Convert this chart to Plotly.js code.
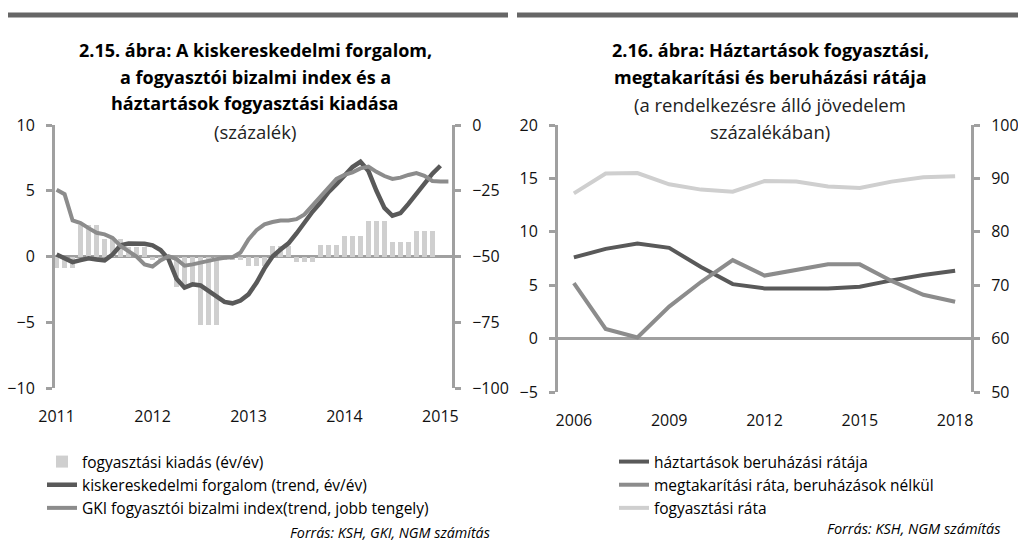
<!DOCTYPE html>
<html>
<head>
<meta charset="utf-8">
<script src="https://cdn.plot.ly/plotly-3.0.1.min.js"></script>
<style>
html,body{margin:0;padding:0;background:#fff;}
#chart{width:1018px;height:546px;}
</style>
</head>
<body>
<div id="chart"></div>
<script>
// ---------- Left chart (2.15) : monthly, Jan 2011 = 0 ----------
var leftTickVals = [0, 12, 24, 36, 48];
var leftTickText = ['2011', '2012', '2013', '2014', '2015'];

// fogyasztási kiadás (év/év) – quarterly value shown for each month, Jan 2011 .. Dec 2014
var kiadasMonth = [0,1,2,3,4,5,6,7,8,9,10,11,12,13,14,15,16,17,18,19,20,21,22,23,
                   24,25,26,27,28,29,30,31,32,33,34,35,36,37,38,39,40,41,42,43,44,45,46,47];
var kiadas = [-0.85,-0.85,-0.85, 2.4,2.4,2.4, 1.3,1.3,1.3, 0.7,0.7,0.7,
              -0.3,-0.3,-0.3, -2.3,-2.3,-2.3, -5.2,-5.2,-5.2, -0.3,-0.3,-0.3,
              -0.75,-0.75,-0.75, 0.78,0.78,0.78, -0.45,-0.45,-0.45, 0.9,0.9,0.9,
              1.54,1.54,1.54, 2.67,2.67,2.67, 1.08,1.08,1.08, 1.92,1.92,1.92];

// kiskereskedelmi forgalom (trend, év/év), Jan 2011 .. Jan 2015
var kiskerMonth = [0,1,2,3,4,5,6,7,8,9,10,11,12,13,14,15,16,17,18,19,20,21,22,23,24,
                   25,26,27,28,29,30,31,32,33,34,35,36,37,38,39,40,41,42,43,44,45,46,47,48];
var kisker = [0.15,-0.1,-0.43,-0.28,-0.13,-0.23,-0.3,0.15,0.86,0.98,0.98,0.97,0.85,0.5,-0.2,
              -1.7,-2.37,-2.12,-2.2,-2.65,-3.1,-3.45,-3.56,-3.35,-2.88,-2.0,-0.9,0.0,0.53,1.0,
              1.75,2.6,3.4,4.1,4.9,5.5,6.2,6.8,7.2,6.5,5.0,3.7,3.1,3.3,4.0,4.8,5.6,6.3,6.9];

// GKI fogyasztói bizalmi index (trend, jobb tengely), Jan 2011 .. Feb 2015
var gkiMonth = [0,1,2,3,4,5,6,7,8,9,10,11,12,13,14,15,16,17,18,19,20,21,22,23,24,
                25,26,27,28,29,30,31,32,33,34,35,36,37,38,39,40,41,42,43,44,45,46,47,48,49];
var gki = [-24.6,-26.3,-36.3,-37.3,-39.2,-41.0,-41.6,-42.9,-46.0,-47.9,-50.0,-53.0,-53.8,-51.5,-49.9,
           -51.0,-53.5,-53.0,-52.3,-51.5,-51.0,-50.5,-50.3,-48.5,-43.5,-40.0,-37.8,-36.9,-36.3,-36.3,
           -35.8,-34.0,-30.5,-27.0,-23.8,-20.5,-19.0,-18.0,-16.5,-15.8,-17.8,-19.4,-20.5,-20.0,-19.0,
           -18.3,-19.3,-21.3,-21.5,-21.5];

// ---------- Right chart (2.16) : yearly ----------
var years = [2006,2007,2008,2009,2010,2011,2012,2013,2014,2015,2016,2017,2018];
var rightTickVals = [2006, 2009, 2012, 2015, 2018];
var beruhazasi = [7.6,8.4,8.9,8.5,6.7,5.1,4.7,4.7,4.7,4.85,5.45,5.95,6.35];
var megtakaritasi = [5.2,0.9,0.1,3.0,5.3,7.35,5.9,6.4,6.95,6.95,5.4,4.1,3.45];
var fogyasztasi = [87.2,90.9,91.0,88.9,87.9,87.5,89.5,89.4,88.5,88.2,89.4,90.2,90.4];

var FONT = 'Open Sans, Noto Sans, sans-serif';
var AX = '#a0a0a0';
var DARK = '#595959', MID = '#8c8c8c', LIGHT = '#cfcfcf';
var W = 1018, H = 546;
function px(x){return x / W;}
function py(y){return 1 - y / H;}

var traces = [
  {type:'bar', x:kiadasMonth, y:kiadas, width:0.68, marker:{color:LIGHT, line:{width:0}},
   name:'fogyasztási kiadás (év/év)', xaxis:'x', yaxis:'y', legend:'legend', legendgroup:'a'},
  {type:'scatter', mode:'lines', x:kiskerMonth, y:kisker, line:{color:DARK, width:4.5},
   name:'kiskereskedelmi forgalom (trend, év/év)', xaxis:'x', yaxis:'y', legend:'legend', legendgroup:'b'},
  {type:'scatter', mode:'lines', x:gkiMonth, y:gki, line:{color:MID, width:4},
   name:'GKI fogyasztói bizalmi index(trend, jobb tengely)', xaxis:'x', yaxis:'y2', legend:'legend', legendgroup:'c'},
  {type:'scatter', mode:'lines', x:years, y:beruhazasi, line:{color:DARK, width:4},
   name:'háztartások beruházási rátája', xaxis:'x2', yaxis:'y3', legend:'legend2', legendgroup:'d'},
  {type:'scatter', mode:'lines', x:years, y:megtakaritasi, line:{color:MID, width:4},
   name:'megtakarítási ráta, beruházások nélkül', xaxis:'x2', yaxis:'y3', legend:'legend2', legendgroup:'e'},
  {type:'scatter', mode:'lines', x:years, y:fogyasztasi, line:{color:LIGHT, width:4},
   name:'fogyasztási ráta', xaxis:'x2', yaxis:'y4', legend:'legend2', legendgroup:'f'}
];

var tickFont = {family:FONT, size:16, color:'#111'};
function yax(domain, range, dtick, side, anchor, overlay, zero){
  var o = {domain:domain, range:range, dtick:dtick, tick0:range[0], side:side, anchor:anchor,
    showgrid:false, zeroline:!!zero, zerolinecolor:AX, zerolinewidth:2.5,
    showline:true, linecolor:AX, linewidth:3, ticks:'outside', ticklen:6, tickwidth:3, tickcolor:AX,
    tickfont:tickFont, ticklabelstandoff:8, fixedrange:true};
  if (overlay) o.overlaying = overlay;
  return o;
}

var legFont = {family:FONT, size:15.5, color:'#000'};
var layout = {
  width:W, height:H, margin:{l:0,r:0,t:0,b:0},
  paper_bgcolor:'#fff', plot_bgcolor:'rgba(0,0,0,0)',
  font:{family:FONT, size:15, color:'#000'},
  bargap:0,
  xaxis:{domain:[px(55), px(452)], range:[-0.2, 49.45], anchor:'y', showgrid:false, zeroline:false,
    showline:false, ticks:'', tickvals:leftTickVals, ticktext:leftTickText, tickfont:tickFont,
    ticklabelstandoff:17, fixedrange:true},
  yaxis: yax([py(388), py(125)], [-10, 10], 5, 'left', 'x', null, true),
  yaxis2: yax([py(388), py(125)], [-100, 0], 25, 'right', 'x', 'y', false),
  xaxis2:{domain:[px(558), px(971)], range:[2005.5, 2018.5], anchor:'y3', showgrid:false, zeroline:false,
    showline:false, ticks:'', tickvals:rightTickVals, tickfont:tickFont, ticklabelstandoff:17, fixedrange:true},
  yaxis3: yax([py(392), py(125)], [-5, 20], 5, 'left', 'x2', null, true),
  yaxis4: yax([py(392), py(125)], [50, 100], 10, 'right', 'x2', 'y3', false),
  legend:{x:px(42), y:py(445), xanchor:'left', yanchor:'top', bgcolor:'rgba(0,0,0,0)',
    font:legFont, tracegroupgap:6, traceorder:'normal', itemclick:false},
  legend2:{x:px(614), y:py(445), xanchor:'left', yanchor:'top', bgcolor:'rgba(0,0,0,0)',
    font:legFont, tracegroupgap:8, traceorder:'normal', itemclick:false},
  shapes:[
    {type:'rect', xref:'paper', yref:'paper', x0:px(8), x1:px(508), y0:py(17.5), y1:py(12.5),
     fillcolor:'#666', line:{width:0}},
    {type:'rect', xref:'paper', yref:'paper', x0:px(517), x1:px(1018), y0:py(17.5), y1:py(12.5),
     fillcolor:'#666', line:{width:0}}
  ],
  annotations:[]
};

function ann(text, x, y, size, bold, italic, align, color){
  layout.annotations.push({xref:'paper', yref:'paper', x:px(x), y:py(y), xanchor:align||'center', yanchor:'middle',
    showarrow:false, text: bold ? '<b>'+text+'</b>' : text,
    font:{family:FONT, size:size, color:color||'#000', style: italic ? 'italic' : 'normal'}});
}
ann('2.15. ábra: A kiskereskedelmi forgalom,', 255, 50, 18, true);
ann('a fogyasztói bizalmi index és a', 255, 77, 18, true);
ann('háztartások fogyasztási kiadása', 255, 103, 18, true);
ann('(százalék)', 255, 131, 18.5, false, false, 'center', '#222');
ann('2.16. ábra: Háztartások fogyasztási,', 770, 50, 18, true);
ann('megtakarítási és beruházási rátája', 770, 77, 18, true);
ann('(a rendelkezésre álló jövedelem', 770, 104, 18.5, false, false, 'center', '#222');
ann('százalékában)', 770, 131, 18.5, false, false, 'center', '#222');
ann('Forrás: KSH, GKI, NGM számítás', 492, 532, 14.3, false, true, 'right');
ann('Forrás: KSH, NGM számítás', 1002, 528, 14.5, false, true, 'right');

Plotly.newPlot('chart', traces, layout, {displayModeBar:false, staticPlot:true});
</script>
</body>
</html>
